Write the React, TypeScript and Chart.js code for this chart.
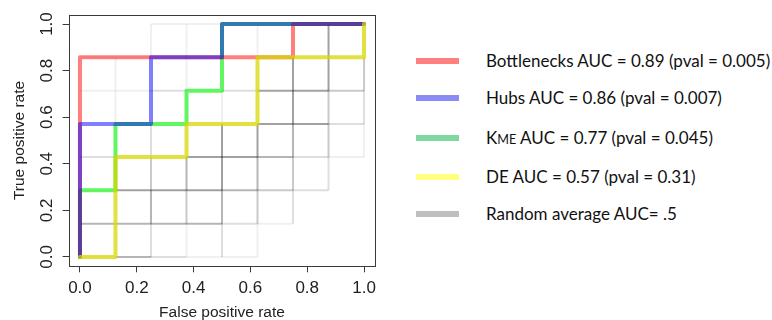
import React, { useEffect, useRef } from "react";
import { Chart, registerables } from "chart.js";
Chart.register(...registerables);

// Grid steps of the ROC curves (8 negatives, 7 positives)
const FPR_STEPS = [0, 0.125, 0.25, 0.375, 0.5, 0.625, 0.75, 0.875, 1];
const TPR_STEPS = [0, 0.143, 0.286, 0.429, 0.571, 0.714, 0.857, 1];
const AXIS_TICKS = [0, 0.2, 0.4, 0.6, 0.8, 1.0];

// ROC curves (corner points)
const bottlenecksFpr = [0, 0, 0.75, 0.75, 1];
const bottlenecksTpr = [0, 0.857, 0.857, 1, 1];
const hubsFpr = [0, 0, 0.25, 0.25, 0.5, 0.5, 1];
const hubsTpr = [0, 0.571, 0.571, 0.857, 0.857, 1, 1];
const kmeFpr = [0, 0, 0.125, 0.125, 0.375, 0.375, 0.5, 0.5, 1];
const kmeTpr = [0, 0.286, 0.286, 0.571, 0.571, 0.714, 0.714, 1, 1];
const deFpr = [0, 0.125, 0.125, 0.375, 0.375, 0.625, 0.625, 1, 1];
const deTpr = [0, 0, 0.429, 0.429, 0.571, 0.571, 0.857, 0.857, 1];

// Random-permutation curves: how dark (0-5) each grid segment is.
// Horizontal segments: rows = TPR level, cols = FPR interval
const randomH = [
  [1, 4, 2, 1, 1, 0, 0, 0],
  [4, 4, 4, 4, 2, 1, 0, 0],
  [0, 5, 5, 5, 4, 3, 2, 0],
  [2, 0, 0, 5, 5, 4, 2, 1],
  [0, 0, 0, 0, 0, 5, 5, 2],
  [1, 1, 2, 0, 2, 5, 5, 3],
  [1, 1, 0, 0, 0, 0, 0, 0],
  [0, 0, 1, 1, 0, 0, 0, 0],
];
// Vertical segments: rows = FPR level, cols = TPR interval
const randomV = [
  [0, 0, 0, 0, 0, 0, 0],
  [0, 0, 0, 0, 1, 1, 0],
  [2, 4, 3, 2, 0, 0, 1],
  [1, 3, 4, 0, 0, 1, 1],
  [2, 4, 5, 5, 1, 0, 0],
  [1, 3, 4, 5, 0, 0, 1],
  [0, 2, 3, 4, 5, 5, 0],
  [0, 0, 2, 3, 3, 5, 5],
  [0, 0, 0, 1, 2, 3, 0],
];
const DENSITY_ALPHA = [0, 0.06, 0.13, 0.21, 0.29, 0.37];

const LEGEND = [
  { label: "Bottlenecks AUC = 0.89 (pval = 0.005)", color: "#ff7f7f", y: 61 },
  { label: "Hubs AUC = 0.86 (pval = 0.007)", color: "#8b8bf6", y: 97.5 },
  { label: "KME AUC = 0.77 (pval = 0.045)", color: "#7fd8a0", y: 138 },
  { label: "DE AUC = 0.57 (pval = 0.31)", color: "#ffff80", y: 177 },
  { label: "Random average AUC= .5", color: "#bfbfbf", y: 214 },
];

const toPts = (xs: number[], ys: number[]) => xs.map((x, i) => ({ x, y: ys[i] }));

const framePlugin = {
  id: "frame",
  afterDatasetsDraw(chart: any) {
    const { ctx, chartArea } = chart;
    ctx.save();
    ctx.strokeStyle = "#3a3a3a";
    ctx.lineWidth = 1;
    const l = Math.round(chartArea.left) + 0.5;
    const t = Math.round(chartArea.top) + 0.5;
    const r = Math.round(chartArea.right) + 0.5;
    const b = Math.round(chartArea.bottom) + 0.5;
    ctx.strokeRect(l, t, r - l, b - t);
    ctx.restore();
  },
};

function ChartBox() {
  const ref = useRef<HTMLCanvasElement | null>(null);
  useEffect(() => {
    const canvas = ref.current!;
    const datasets: any[] = [];
    randomH.forEach((row, r) =>
      row.forEach((lvl, c) => {
        if (!lvl) return;
        datasets.push({
          data: [
            { x: FPR_STEPS[c], y: TPR_STEPS[r] },
            { x: FPR_STEPS[c + 1], y: TPR_STEPS[r] },
          ],
          borderColor: `rgba(0,0,0,${DENSITY_ALPHA[lvl]})`,
          borderWidth: 2,
          pointRadius: 0,
          order: 10,
        });
      })
    );
    randomV.forEach((row, i) =>
      row.forEach((lvl, r) => {
        if (!lvl) return;
        datasets.push({
          data: [
            { x: FPR_STEPS[i], y: TPR_STEPS[r] },
            { x: FPR_STEPS[i], y: TPR_STEPS[r + 1] },
          ],
          borderColor: `rgba(0,0,0,${DENSITY_ALPHA[lvl]})`,
          borderWidth: 2,
          pointRadius: 0,
          order: 10,
        });
      })
    );
    const curve = (xs: number[], ys: number[], color: string, order: number) => ({
      data: toPts(xs, ys),
      borderColor: color,
      borderWidth: 4,
      pointRadius: 0,
      borderCapStyle: "round",
      borderJoinStyle: "round",
      order,
    });
    datasets.push(curve(kmeFpr, kmeTpr, "rgba(0,240,0,0.62)", 4));
    datasets.push(curve(bottlenecksFpr, bottlenecksTpr, "rgba(255,0,0,0.5)", 3));
    datasets.push(curve(hubsFpr, hubsTpr, "rgba(0,0,255,0.5)", 2));
    datasets.push(curve(deFpr, deTpr, "rgba(215,215,0,0.75)", 1));

    const tickFont = { family: "'Liberation Sans', Arial, sans-serif", size: 17 };
    const titleFont = { family: "'Liberation Sans', Arial, sans-serif", size: 15.5, lineHeight: 1 };
    const fixTicks = (scale: any) => {
      scale.ticks = AXIS_TICKS.map((v) => ({ value: v }));
    };
    const chart = new Chart(canvas, {
      type: "line",
      data: { datasets },
      plugins: [framePlugin],
      options: {
        animation: false,
        responsive: false,
        maintainAspectRatio: false,
        layout: { padding: { left: 0, top: 14.7, right: 390 - 375.4, bottom: 0 } },
        plugins: { legend: { display: false }, tooltip: { enabled: false } },
        scales: {
          x: {
            type: "linear",
            min: -0.04,
            max: 1.04,
            afterBuildTicks: fixTicks,
            afterFit: (s: any) => {
              s.height = 320 - 266.3;
            },
            grid: { drawOnChartArea: false, drawTicks: true, tickLength: 6, color: "#3a3a3a" },
            border: { display: false },
            ticks: {
              font: tickFont,
              color: "#222",
              padding: 5.5,
              maxRotation: 0,
              callback: (v: any) => Number(v).toFixed(1),
            },
            title: {
              display: true,
              text: "False positive rate",
              font: titleFont,
              color: "#222",
              padding: { top: 0, bottom: 0 },
            },
          },
          y: {
            type: "linear",
            min: -0.04,
            max: 1.04,
            afterBuildTicks: fixTicks,
            afterFit: (s: any) => {
              s.width = 68.6;
            },
            grid: { drawOnChartArea: false, drawTicks: true, tickLength: 6, color: "#3a3a3a" },
            border: { display: false },
            ticks: {
              font: tickFont,
              color: "#222",
              padding: 3,
              minRotation: 90,
              maxRotation: 90,
              crossAlign: "center",
              callback: (v: any) => Number(v).toFixed(1),
            },
            title: {
              display: true,
              text: "True positive rate",
              font: { ...titleFont, lineHeight: 1.2 },
              color: "#222",
              padding: { top: 10.5, bottom: 0 },
            },
          },
        },
      } as any,
    });
    return () => chart.destroy();
  }, []);
  return (
    <canvas
      ref={ref}
      width={390}
      height={320}
      style={{ position: "absolute", left: 0, top: 0, width: 390, height: 320 }}
    />
  );
}

export default function App() {
  return (
    <div
      style={{
        position: "absolute",
        left: 0,
        top: 0,
        width: 772,
        height: 320,
        background: "#fff",
        overflow: "hidden",
      }}
    >
      <ChartBox />
      {LEGEND.map((item) => (
        <div key={item.label}>
          <div
            style={{
              position: "absolute",
              left: 416,
              top: item.y - 3,
              width: 43,
              height: 6,
              background: item.color,
            }}
          />
          <div
            style={{
              position: "absolute",
              left: 486,
              top: item.y - 12,
              height: 24,
              lineHeight: "24px",
              fontFamily: "Lato, 'Open Sans', sans-serif",
              fontSize: 17,
              color: "#111",
              whiteSpace: "nowrap",
            }}
          >
            {item.label.startsWith("KME") ? (
              <>
                K<span style={{ fontSize: "0.74em" }}>ME</span>
                {item.label.slice(3)}
              </>
            ) : (
              item.label
            )}
          </div>
        </div>
      ))}
    </div>
  );
}
